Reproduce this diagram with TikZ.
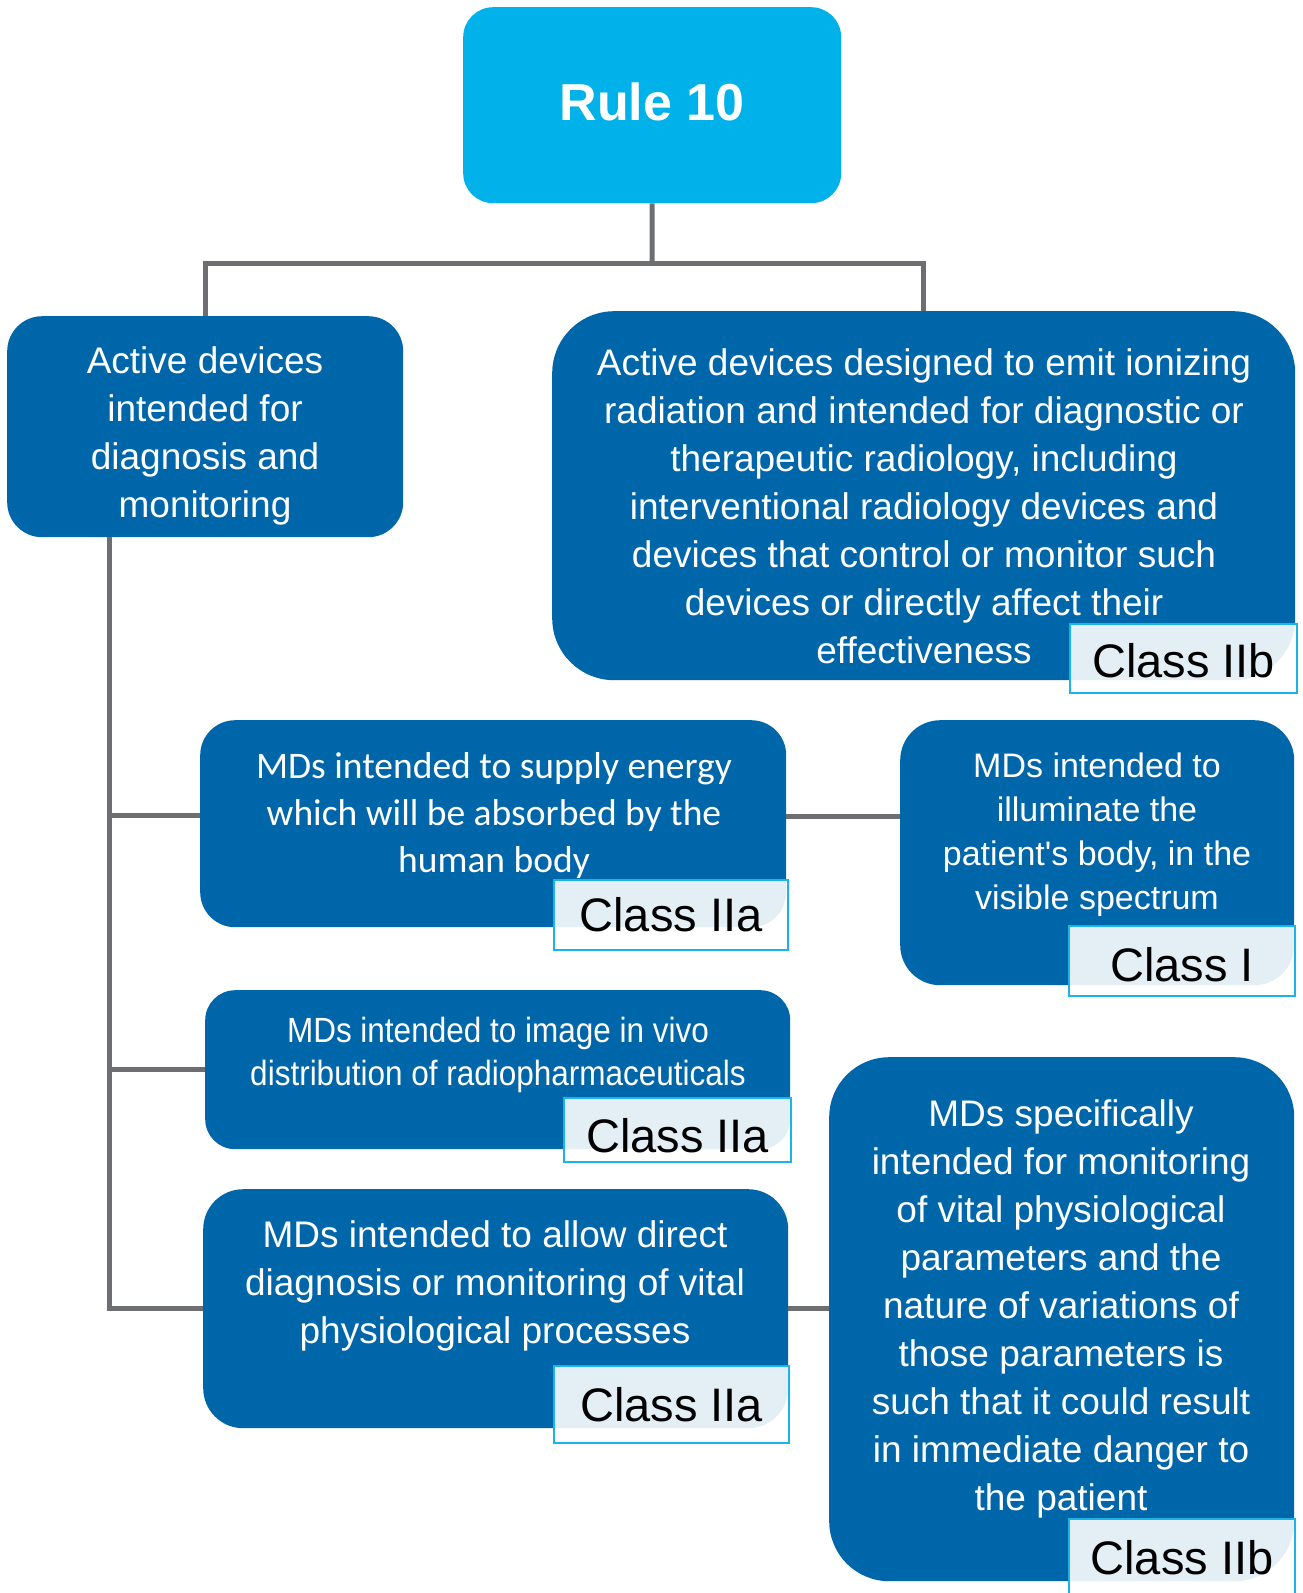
\documentclass[tikz,border=0pt]{standalone}
\usepackage{fontspec}
\setmainfont{Liberation Sans}
\newfontfamily\calibfont{Carlito}
\newfontfamily\narrowfont[FakeStretch=0.9]{Liberation Sans}
\usetikzlibrary{calc}

\definecolor{rulecyan}{HTML}{00B1EA}
\definecolor{darkblue}{HTML}{0066AA}
\definecolor{linkgray}{HTML}{6D6E71}
\definecolor{labelcyan}{HTML}{1BB4E8}

% shift a label's text vertically while keeping its box size
\newcommand{\nudgetext}[2]{\raisebox{#1}[\height][\depth]{#2}}

\tikzset{
  headbox/.style={fill=rulecyan, rounded corners=30pt, inner sep=0pt, anchor=north west},
  dbox/.style={fill=darkblue, rounded corners=#1, inner sep=0pt, anchor=north west},
  wtext/.style={text=white, align=center, inner sep=0pt},
  classlabel/.style={draw=labelcyan, line width=2pt, fill=white, fill opacity=0.89,
    text opacity=1, text=black, inner sep=0pt, anchor=north west,
    font=\fontsize{47}{56}\selectfont},
  link/.style={draw=linkgray, line width=5pt},
  f37/.style={font=\fontsize{37}{48}\selectfont},
}

\begin{document}
\begin{tikzpicture}[x=1pt, y=-1pt]
  \useasboundingbox (0,0) rectangle (1303,1593);

  % top rule box
  \node[headbox, minimum width=378pt, minimum height=196pt] (R) at (463,7) {};
  \node[wtext, font=\fontsize{52}{60}\selectfont\bfseries] (Rt) at (652,102) {Rule 10};

  % first level
  \node[dbox=35pt, minimum width=396pt, minimum height=221pt] (A) at (7,316) {};
  \node[wtext, f37] (At) at (205,436) {Active devices\\intended for\\diagnosis and\\monitoring};

  \node[dbox=62pt, minimum width=743pt, minimum height=369pt] (B) at (552,311) {};
  \node[wtext, f37] (Bt) at (924,506) {Active devices designed to emit ionizing\\radiation and intended for diagnostic or\\therapeutic radiology, including\\interventional radiology devices and\\devices that control or monitor such\\devices or directly affect their\\effectiveness};
  \node[classlabel, minimum width=227pt, minimum height=69pt] (Bl) at (1069,623) {\nudgetext{-2pt}{Class IIb}};

  % second level, left column
  \node[dbox=35pt, minimum width=586pt, minimum height=207pt] (C) at (200,720) {};
  \node[wtext, font=\calibfont\fontsize{37.5}{47}\selectfont] (Ct) at (494,815) {MDs intended to supply energy\\which will be absorbed by the\\human body};
  \node[classlabel, minimum width=234pt, minimum height=70pt] (Cl) at (553,879) {Class IIa};

  \node[dbox=30pt, minimum width=585pt, minimum height=159pt] (E) at (205,990) {};
  \node[wtext, font=\narrowfont\fontsize{35}{43}\selectfont] (Et) at (498,1055) {MDs intended to image in vivo\\distribution of radiopharmaceuticals};
  \node[classlabel, minimum width=227pt, minimum height=64pt] (El) at (563,1097) {\nudgetext{-6pt}{Class IIa}};

  \node[dbox=40pt, minimum width=585pt, minimum height=239pt] (F) at (203,1189) {};
  \node[wtext, f37] (Ft) at (495,1286) {MDs intended to allow direct\\diagnosis or monitoring of vital\\physiological processes};
  \node[classlabel, minimum width=235pt, minimum height=77pt] (Fl) at (553,1365) {Class IIa};

  % second level, right column
  \node[dbox=40pt, minimum width=394pt, minimum height=265pt] (D) at (900,720) {};
  \node[wtext, font=\fontsize{34}{44}\selectfont] (Dt) at (1097,835) {MDs intended to\\illuminate the\\patient\textquotesingle s body, in the\\visible spectrum};
  \node[classlabel, minimum width=226pt, minimum height=70pt] (Dl) at (1068,925) {\nudgetext{-4pt}{Class I}};

  \node[dbox=60pt, minimum width=465pt, minimum height=524pt] (G) at (829,1057) {};
  \node[wtext, f37] (Gt) at (1061,1309) {MDs specifically\\intended for monitoring\\of vital physiological\\parameters and the\\nature of variations of\\those parameters is\\such that it could result\\in immediate danger to\\the patient};
  \node[classlabel, minimum width=226pt, minimum height=84pt] (Gl) at (1068,1518) {\nudgetext{3pt}{Class IIb}};

  % connectors
  \coordinate (j) at (652,263);
  \coordinate (t0) at (109,537);
  \draw[link] (R.south) -- (j);
  \draw[link] (A.north) |- (j) -| (B.north);
  \draw[link] (t0) |- (F.west);
  \draw[link] ([yshift=8pt]C.west) -- ([yshift=8pt]C.west -| t0);
  \draw[link] (E.west) -- (E.west -| t0);
  \draw[link] ([yshift=7pt]C.east) -- ([yshift=7pt]C.east -| D.west);
  \draw[link] (F.east) -- (F.east -| G.west);
\end{tikzpicture}
\end{document}
